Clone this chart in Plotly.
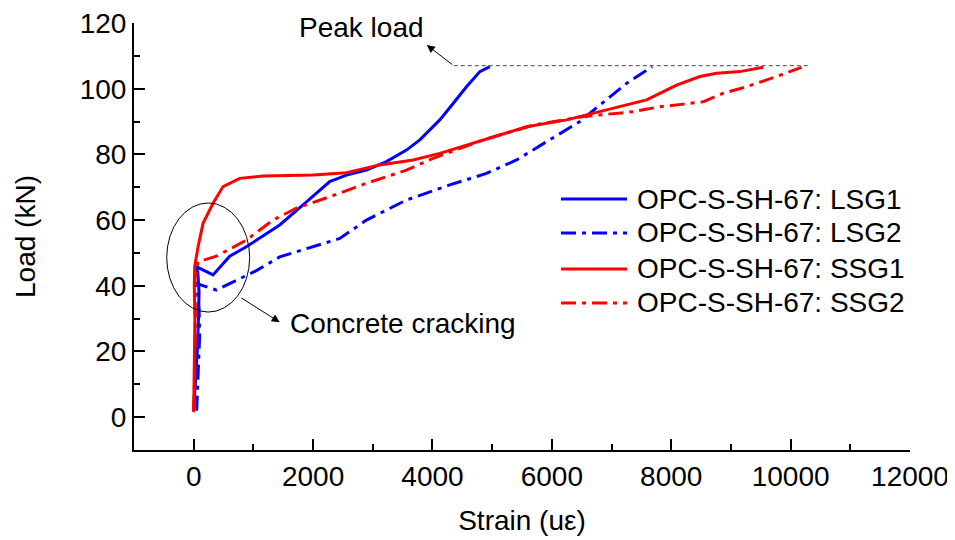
import plotly.graph_objects as go

# ---------------- data ----------------
series_names = ["OPC-S-SH-67: LSG1", "OPC-S-SH-67: LSG2",
                "OPC-S-SH-67: SSG1", "OPC-S-SH-67: SSG2"]

lsg1_strain = [0, 30, 60, 80, 90, 70, 45, 324, 603, 883, 1441, 1832, 2279, 2559,
               2894, 3229, 3564, 3788, 4123, 4346, 4570, 4793, 4961]
lsg1_load = [2, 10, 20, 30, 38, 44, 45.8, 43.3, 49.0, 51.9, 58.5, 64.6, 71.7, 73.7,
             75.2, 77.8, 81.3, 84.4, 90.5, 95.5, 100.6, 105.2, 106.7]

lsg2_strain = [50, 80, 100, 90, 60, 45, 380, 1050, 1441, 2447, 2894, 3564, 4290,
               4905, 5408, 5966, 6469, 6804, 7251, 7680]
lsg2_load = [2, 15, 25, 33, 38, 40.7, 38.7, 44.6, 48.8, 54.4, 60.0, 66.1, 70.7,
             74.2, 78.3, 84.4, 90.0, 95.0, 101.6, 106.7]

ssg1_strain = [0, 10, 20, 10, 17, 73, 157, 324, 492, 771, 1162, 2000, 2559, 3117,
               3676, 4123, 4849, 5576, 6246, 6692, 7251, 7586, 7810, 8089, 8480,
               8760, 9150, 9541]
ssg1_load = [1.5, 15, 30, 40, 45.8, 51.9, 59.0, 65.1, 70.2, 72.7, 73.4, 73.7, 74.4,
             76.8, 78.3, 80.3, 84.4, 88.4, 90.5, 92.5, 95.0, 96.6, 98.6, 101.1,
             103.7, 104.7, 105.2, 106.5]

ssg2_strain = [0, 20, 30, 20, 73, 380, 883, 1329, 1721, 2279, 2894, 3564, 4011,
               4849, 5687, 6525, 7363, 7810, 8200, 8535, 8871, 9262, 9765, 10184]
ssg2_load = [2, 15, 30, 42, 47.3, 49.0, 53.9, 60.0, 63.6, 67.1, 71.2, 75.2, 78.8,
             84.4, 88.9, 91.5, 93.0, 94.5, 95.3, 96.0, 98.6, 100.6, 103.7, 106.5]

peak_load = 107
peak_line_start = 4357
peak_line_end = 10290

x_ticks = [0, 2000, 4000, 6000, 8000, 10000, 12000]
x_tick_labels = ["0", "2000", "4000", "6000", "8000", "10000", "12000"]
y_ticks = [0, 20, 40, 60, 80, 100, 120]
y_tick_labels = ["0", "20", "40", "60", "80", "100", "120"]

# ---------------- styles ----------------
BLUE = "#0000FF"
RED = "#FF0000"
DASHDOT = "15px,6px,4px,6px"
FONT = "Liberation Sans, Arial, sans-serif"
FS = 28

series = [
    (lsg1_strain, lsg1_load, BLUE, "solid"),
    (lsg2_strain, lsg2_load, BLUE, DASHDOT),
    (ssg1_strain, ssg1_load, RED, "solid"),
    (ssg2_strain, ssg2_load, RED, DASHDOT),
]

fig = go.Figure()
for name, (xs, ys, col, dash) in zip(series_names, series):
    fig.add_trace(go.Scatter(x=xs, y=ys, mode="lines", name=name,
                             line=dict(color=col, width=3, dash=dash),
                             showlegend=False))

# peak load dashed line
fig.add_shape(type="line", xref="x", yref="y", x0=peak_line_start, x1=peak_line_end,
              y0=peak_load, y1=peak_load,
              line=dict(color="#444444", width=1, dash="4px,3px"))

# ellipse around cracking
fig.add_shape(type="circle", xref="x", yref="y", x0=-452, x1=938, y0=32, y1=65.2,
              line=dict(color="black", width=1))

# arrows
fig.add_annotation(x=3905, y=113.3, ax=peak_line_start, ay=peak_load, xref="x", yref="y",
                   axref="x", ayref="y", text="", showarrow=True, arrowhead=2,
                   arrowsize=1.6, arrowwidth=1, arrowcolor="black")
fig.add_annotation(x=1441, y=28.9, ax=771, ay=36.6, xref="x", yref="y",
                   axref="x", ayref="y", text="", showarrow=True, arrowhead=2,
                   arrowsize=1.6, arrowwidth=1, arrowcolor="black")

fig.add_annotation(x=2816, y=118.5, xref="x", yref="y", text="Peak load",
                   showarrow=False, font=dict(family=FONT, size=FS, color="black"))
fig.add_annotation(x=3503, y=28.6, xref="x", yref="y", text="Concrete cracking",
                   showarrow=False, font=dict(family=FONT, size=FS, color="black"))

# manual legend
leg_x0, leg_x1, leg_tx = 0.5503, 0.6353, 0.6456
leg_ys = [0.5878, 0.5082, 0.4239, 0.3443]
for name, (xs, ys, col, dash), ly in zip(series_names, series, leg_ys):
    fig.add_shape(type="line", xref="paper", yref="paper", x0=leg_x0, x1=leg_x1,
                  y0=ly, y1=ly, line=dict(color=col, width=3, dash=dash))
    fig.add_annotation(x=leg_tx, y=ly, xref="paper", yref="paper", text=name,
                       xanchor="left", yanchor="middle", showarrow=False,
                       font=dict(family=FONT, size=FS, color="black"))

fig.update_layout(
    width=947, height=532,
    margin=dict(l=126, r=45, t=15, b=90),
    paper_bgcolor="white", plot_bgcolor="white",
    font=dict(family=FONT, size=FS, color="black"),
)
fig.update_xaxes(range=[-1000, 12000], tickvals=x_ticks, ticktext=x_tick_labels,
                 ticks="inside", ticklen=11, automargin=False,
                 ticklabeloverflow="allow",
                 tickwidth=2, tickcolor="black", showline=True, linewidth=2,
                 linecolor="black", showgrid=False, zeroline=False,
                 minor=dict(dtick=1000, tick0=0, ticks="inside", ticklen=6,
                            tickwidth=2, tickcolor="black", showgrid=False),
                 title=dict(text="Strain (uε)", standoff=20,
                            font=dict(family=FONT, size=FS)),
                 tickfont=dict(family=FONT, size=FS))
fig.update_yaxes(range=[-10, 120], tickvals=y_ticks, ticktext=y_tick_labels,
                 ticks="inside", ticklen=11, automargin=False,
                 ticklabeloverflow="allow",
                 tickwidth=2, tickcolor="black", showline=True, linewidth=2,
                 linecolor="black", showgrid=False, zeroline=False,
                 minor=dict(dtick=10, tick0=0, ticks="inside", ticklen=6,
                            tickwidth=2, tickcolor="black", showgrid=False),
                 title=dict(text="Load (kN)", standoff=36,
                            font=dict(family=FONT, size=FS)),
                 tickfont=dict(family=FONT, size=FS))

fig.write_html("out.html")
